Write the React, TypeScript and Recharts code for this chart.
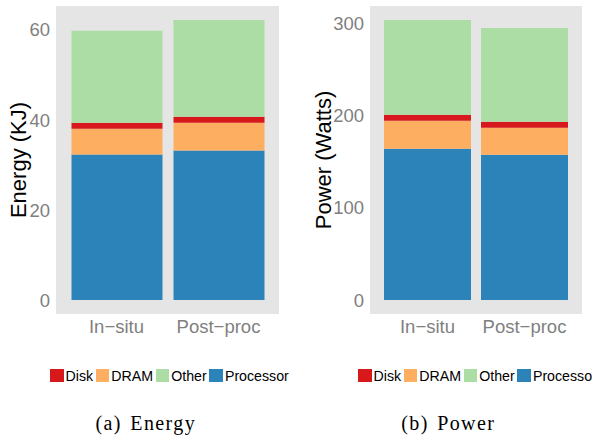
import { BarChart, Bar, XAxis, YAxis, CartesianGrid, Legend } from 'recharts';

// categories and stacked components
const categories = ['In\u2212situ', 'Post\u2212proc'];

const energyProcessor = [32.3, 33.2];
const energyDram = [5.75, 6.2];
const energyDisk = [1.35, 1.3];
const energyOther = [20.4, 21.5];
const energyTicks = [0, 20, 40, 60];

const powerProcessor = [163.9, 157.4];
const powerDram = [30.2, 29.2];
const powerDisk = [6.5, 6.5];
const powerOther = [102.6, 101.5];
const powerTicks = [0, 100, 200, 300];

const legendOrder = ['Disk', 'DRAM', 'Other', 'Processor'];

const COLORS: Record<string, string> = {
  Processor: '#2b83ba',
  DRAM: '#fdae61',
  Disk: '#d7191c',
  Other: '#abdda4',
};

const SANS = '"Liberation Sans", Arial, Helvetica, sans-serif';
const SERIF = '"Liberation Serif", "Times New Roman", serif';
const TICK_GREY = '#7f7f7f';

function buildRows(proc: number[], dram: number[], disk: number[], other: number[]) {
  return categories.map((name, i) => ({
    name,
    Processor: proc[i],
    DRAM: dram[i],
    Disk: disk[i],
    Other: other[i],
  }));
}

// ggplot-like 5% expansion around the stacked totals
function expandedDomain(rows: any[]): [number, number] {
  const max = Math.max(...rows.map(r => r.Processor + r.DRAM + r.Disk + r.Other));
  return [-max * 0.05, max * 1.05];
}

const AxisTitle = (props: any) => {
  const { viewBox, text, baseX } = props;
  const cx = viewBox.x + baseX;
  const cy = viewBox.y + viewBox.height / 2;
  return (
    <text
      x={cx}
      y={cy}
      transform={`rotate(-90, ${cx}, ${cy})`}
      textAnchor="middle"
      fontSize={22}
      fontFamily={SANS}
      fill="#000"
    >
      {text}
    </text>
  );
};

const LegendKeys = ({ payload }: any) => {
  const items = legendOrder
    .map(n => (payload || []).find((p: any) => p.value === n))
    .filter(Boolean);
  return (
    <div style={{ display: 'flex', alignItems: 'center', height: 14, whiteSpace: 'nowrap' }}>
      {items.map((it: any) => (
        <div key={it.value} style={{ display: 'flex', alignItems: 'center', flexShrink: 0, marginRight: 2.7 }}>
          <span style={{ width: 13.5, height: 13.5, background: it.color, marginRight: 2, display: 'inline-block' }} />
          <span style={{ fontSize: 14.2, lineHeight: '14px', color: '#000', fontFamily: SANS }}>{it.value}</span>
        </div>
      ))}
    </div>
  );
};

interface PanelProps {
  rows: any[];
  ticks: number[];
  title: string;
  titleX: number;
  axisWidth: number;
  rightMargin: number;
  pad: number;
  barSize: number;
  legendLeft: number;
}

function StackPanel({ rows, ticks, title, titleX, axisWidth, rightMargin, pad, barSize, legendLeft }: PanelProps) {
  const tickStyle = { fill: TICK_GREY, fontSize: 18.5, fontFamily: SANS };
  return (
    <BarChart
      width={296}
      height={400}
      data={rows}
      margin={{ top: 6, right: rightMargin, bottom: 56, left: 0 }}
    >
      <CartesianGrid horizontal={false} vertical={false} fill="#e5e5e5" />
      <XAxis
        dataKey="name"
        height={30}
        axisLine={false}
        tickLine={false}
        tickSize={0}
        tickMargin={6}
        interval={0}
        padding={{ left: pad, right: pad }}
        tick={tickStyle}
      />
      <YAxis
        width={axisWidth}
        type="number"
        domain={expandedDomain(rows)}
        allowDataOverflow
        ticks={ticks}
        interval={0}
        axisLine={false}
        tickLine={false}
        tickSize={0}
        tickMargin={6}
        tick={tickStyle}
        label={<AxisTitle text={title} baseX={titleX} />}
      />
      <Legend
        layout="horizontal"
        verticalAlign="middle"
        align="center"
        content={<LegendKeys />}
        wrapperStyle={{ left: legendLeft, top: 368.5, width: 260 }}
      />
      <Bar dataKey="Processor" stackId="s" fill={COLORS.Processor} barSize={barSize} isAnimationActive={false} />
      <Bar dataKey="DRAM" stackId="s" fill={COLORS.DRAM} barSize={barSize} isAnimationActive={false} />
      <Bar dataKey="Disk" stackId="s" fill={COLORS.Disk} barSize={barSize} isAnimationActive={false} />
      <Bar dataKey="Other" stackId="s" fill={COLORS.Other} barSize={barSize} isAnimationActive={false} />
    </BarChart>
  );
}

export default function App() {
  const energyRows = buildRows(energyProcessor, energyDram, energyDisk, energyOther);
  const powerRows = buildRows(powerProcessor, powerDram, powerDisk, powerOther);

  return (
    <div
      style={{
        position: 'absolute',
        left: 0,
        top: 0,
        width: 592,
        height: 438,
        overflow: 'hidden',
        background: '#fff',
        fontFamily: SANS,
      }}
    >
      <div style={{ position: 'absolute', left: 0, top: 0 }}>
        <StackPanel
          rows={energyRows}
          ticks={energyTicks}
          title="Energy (KJ)"
          titleX={26}
          axisWidth={56}
          rightMargin={17}
          pad={9.5}
          barSize={91}
          legendLeft={50}
        />
      </div>
      <div style={{ position: 'absolute', left: 296, top: 0 }}>
        <StackPanel
          rows={powerRows}
          ticks={powerTicks}
          title="Power (Watts)"
          titleX={35}
          axisWidth={74}
          rightMargin={10}
          pad={9}
          barSize={87}
          legendLeft={62}
        />
      </div>
      {/* subfigure captions */}
      <svg width={592} height={438} style={{ position: 'absolute', left: 0, top: 0, pointerEvents: 'none' }}>
        <text x={145.8} y={430} textAnchor="middle" fontFamily={SERIF} fontSize={20} letterSpacing={1.4} wordSpacing={2} fill="#000">
          (a) Energy
        </text>
        <text x={448.3} y={430} textAnchor="middle" fontFamily={SERIF} fontSize={20} letterSpacing={1.4} wordSpacing={2} fill="#000">
          (b) Power
        </text>
      </svg>
    </div>
  );
}
